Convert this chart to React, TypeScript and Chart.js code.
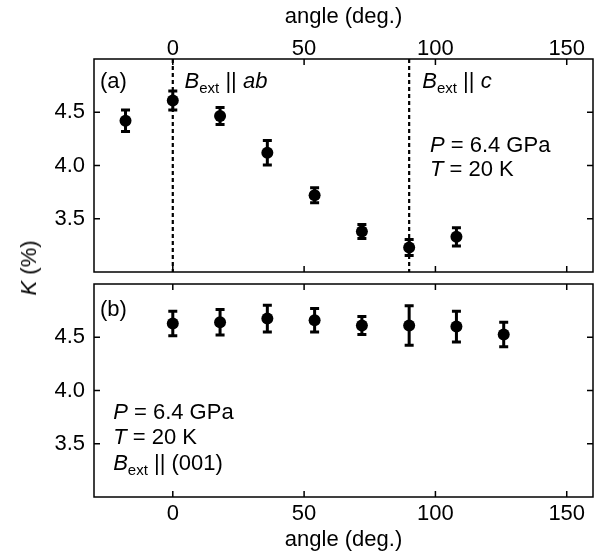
import React, { useEffect, useRef } from "react";
import { Chart, registerables } from "chart.js";

Chart.register(...registerables);

// ---- data ----
const anglesA = [-18, 0, 18, 36, 54, 72, 90, 108];
const valuesA = [4.42, 4.61, 4.465, 4.12, 3.72, 3.38, 3.23, 3.33];
const errorsA = [0.1, 0.09, 0.08, 0.115, 0.07, 0.065, 0.075, 0.085];

const anglesB = [0, 18, 36, 54, 72, 90, 108, 126];
const valuesB = [4.63, 4.64, 4.675, 4.66, 4.61, 4.61, 4.6, 4.525];
const errorsB = [0.115, 0.12, 0.125, 0.11, 0.085, 0.185, 0.145, 0.115];

const xTickValues = [0, 50, 100, 150];
const yTickValues = [3.5, 4.0, 4.5];
const dashedAngles = [0, 90];

const FONT = "'Liberation Sans', Arial, Helvetica, sans-serif";
const FS = 22;

type Part = { t: string; it?: boolean; sub?: boolean };
type Note = { x: number; y: number; parts: Part[] };

const notesA: Note[] = [
  { x: -27.7, y: 4.725, parts: [{ t: "(a)" }] },
  { x: 4.5, y: 4.73, parts: [{ t: "B", it: true }, { t: "ext", sub: true }, { t: " || " }, { t: "ab", it: true }] },
  { x: 95.0, y: 4.73, parts: [{ t: "B", it: true }, { t: "ext", sub: true }, { t: " || " }, { t: "c", it: true }] },
  { x: 97.9, y: 4.13, parts: [{ t: "P", it: true }, { t: " = 6.4 GPa" }] },
  { x: 97.9, y: 3.9, parts: [{ t: "T", it: true }, { t: " = 20 K" }] },
];

const notesB: Note[] = [
  { x: -27.7, y: 4.70, parts: [{ t: "(b)" }] },
  { x: -22.7, y: 3.734, parts: [{ t: "P", it: true }, { t: " = 6.4 GPa" }] },
  { x: -22.7, y: 3.494, parts: [{ t: "T", it: true }, { t: " = 20 K" }] },
  { x: -22.7, y: 3.25, parts: [{ t: "B", it: true }, { t: "ext", sub: true }, { t: " || (001)" }] },
];

function drawRich(ctx: CanvasRenderingContext2D, x: number, y: number, parts: Part[]) {
  let cx = x;
  ctx.save();
  ctx.fillStyle = "#000";
  ctx.textBaseline = "alphabetic";
  ctx.textAlign = "left";
  for (const p of parts) {
    const size = p.sub ? 15 : FS;
    ctx.font = `${p.it ? "italic " : ""}${size}px ${FONT}`;
    const dy = p.sub ? 5 : 0;
    ctx.fillText(p.t, cx, y + dy);
    cx += ctx.measureText(p.t).width;
  }
  ctx.restore();
}

function makePlugin(errors: number[], values: number[], angles: number[], notes: Note[], dashed: number[]) {
  return {
    id: "panelDecor",
    beforeDatasetsDraw(chart: any) {
      const { ctx, chartArea, scales } = chart;
      const xs = scales.x;
      const ys = scales.y;
      ctx.save();
      // dashed reference lines
      ctx.strokeStyle = "#000";
      ctx.lineWidth = 2.2;
      ctx.setLineDash([4, 3]);
      for (const a of dashed) {
        const px = xs.getPixelForValue(a);
        ctx.beginPath();
        ctx.moveTo(px, chartArea.top);
        ctx.lineTo(px, chartArea.bottom);
        ctx.stroke();
      }
      ctx.setLineDash([]);
      // error bars
      ctx.lineWidth = 3;
      for (let i = 0; i < values.length; i++) {
        const px = xs.getPixelForValue(angles[i]);
        const top = ys.getPixelForValue(values[i] + errors[i]);
        const bot = ys.getPixelForValue(values[i] - errors[i]);
        ctx.beginPath();
        ctx.moveTo(px, top);
        ctx.lineTo(px, bot);
        ctx.moveTo(px - 4.5, top);
        ctx.lineTo(px + 4.5, top);
        ctx.moveTo(px - 4.5, bot);
        ctx.lineTo(px + 4.5, bot);
        ctx.stroke();
      }
      ctx.restore();
    },
    afterDraw(chart: any) {
      const { ctx, chartArea, scales } = chart;
      const xs = scales.x;
      const ys = scales.y;
      const { left, right, top, bottom } = chartArea;
      ctx.save();
      ctx.strokeStyle = "#000";
      ctx.lineWidth = 1.5;
      ctx.strokeRect(left, top, right - left, bottom - top);
      const TL = 6;
      ctx.beginPath();
      for (const v of xTickValues) {
        const px = xs.getPixelForValue(v);
        ctx.moveTo(px, top);
        ctx.lineTo(px, top + TL);
        ctx.moveTo(px, bottom);
        ctx.lineTo(px, bottom - TL);
      }
      for (const v of yTickValues) {
        const py = ys.getPixelForValue(v);
        ctx.moveTo(left, py);
        ctx.lineTo(left + TL, py);
        ctx.moveTo(right, py);
        ctx.lineTo(right - TL, py);
      }
      ctx.stroke();
      ctx.restore();
      for (const n of notes) {
        drawRich(ctx, xs.getPixelForValue(n.x), ys.getPixelForValue(n.y), n.parts);
      }
    },
  };
}

function makeConfig(top: boolean): any {
  const angles = top ? anglesA : anglesB;
  const values = top ? valuesA : valuesB;
  const errors = top ? errorsA : errorsB;
  const notes = top ? notesA : notesB;
  const tickFont = { family: FONT, size: FS, lineHeight: 1 };
  return {
    type: "scatter",
    data: {
      datasets: [
        {
          data: angles.map((a, i) => ({ x: a, y: values[i] })),
          backgroundColor: "#000",
          borderColor: "#000",
          borderWidth: 0,
          pointRadius: 6,
          pointHoverRadius: 6,
        },
      ],
    },
    options: {
      responsive: false,
      animation: false,
      events: [],
      layout: { padding: top ? { left: 0, right: 23, top: 0, bottom: 5 } : { left: 0, right: 23, top: 5, bottom: 0 } },
      plugins: { legend: { display: false }, tooltip: { enabled: false } },
      scales: {
        x: {
          type: "linear",
          position: top ? "top" : "bottom",
          min: -30,
          max: 160,
          afterBuildTicks: (s: any) => {
            s.ticks = xTickValues.map((v) => ({ value: v }));
          },
          afterFit: (s: any) => {
            s.height = top ? 59 : 62;
            s.paddingLeft = 0;
            s.paddingRight = 0;
          },
          grid: { display: false, drawTicks: false },
          border: { display: false },
          ticks: { color: "#000", font: tickFont, padding: top ? -1 : 6, maxRotation: 0 },
          title: {
            display: true,
            text: "angle (deg.)",
            color: "#000",
            font: tickFont,
            padding: top ? { top: 6, bottom: 0 } : { top: 0, bottom: 8 },
          },
        },
        y: {
          type: "linear",
          min: 3,
          max: 5,
          afterBuildTicks: (s: any) => {
            s.ticks = yTickValues.map((v) => ({ value: v }));
          },
          afterFit: (s: any) => {
            s.width = 94;
            s.paddingTop = 0;
            s.paddingBottom = 0;
          },
          grid: { display: false, drawTicks: false },
          border: { display: false },
          ticks: {
            color: "#000",
            font: tickFont,
            padding: 9,
            callback: (v: any) => Number(v).toFixed(1),
          },
        },
      },
    },
    plugins: [makePlugin(errors, values, angles, notes, top ? dashedAngles : [])],
  };
}

function Panel({ top }: { top: boolean }) {
  const ref = useRef<HTMLCanvasElement>(null);
  useEffect(() => {
    if (!ref.current) return;
    const chart = new Chart(ref.current, makeConfig(top));
    return () => chart.destroy();
  }, [top]);
  const h = top ? 278 : 281;
  return (
    <canvas
      ref={ref}
      width={616}
      height={h}
      style={{ position: "absolute", left: 0, top: top ? 0 : 278, width: 616, height: h, display: "block" }}
    />
  );
}

export default function App() {
  return (
    <div style={{ position: "fixed", left: 0, top: 0, width: 616, height: 559, background: "#fff", overflow: "hidden" }}>
      <Panel top={true} />
      <Panel top={false} />
      <div
        style={{
          position: "absolute",
          left: 29,
          top: 268,
          transform: "translate(-50%, -50%) rotate(-90deg)",
          whiteSpace: "nowrap",
          fontFamily: FONT,
          fontSize: FS,
          lineHeight: 1,
          color: "#000",
        }}
      >
        <i>K</i> (%)
      </div>
    </div>
  );
}
